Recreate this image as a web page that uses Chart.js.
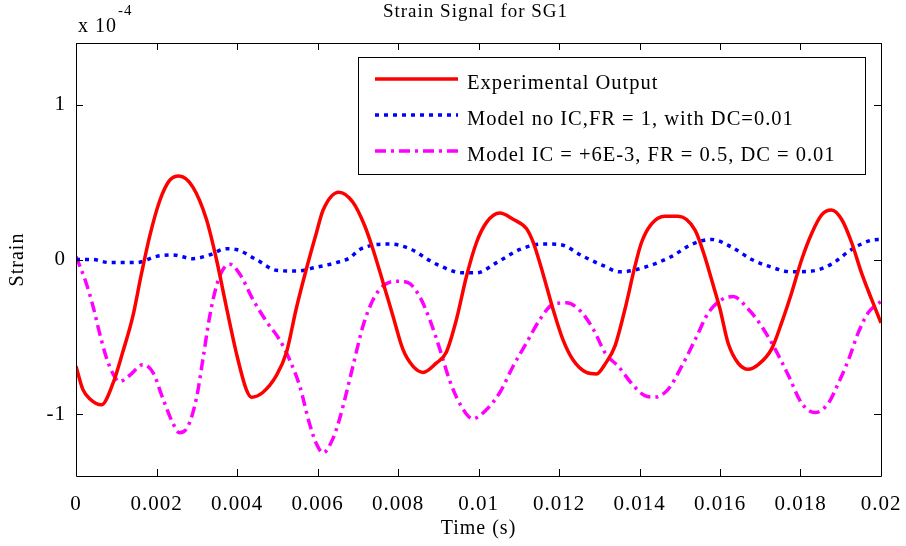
<!DOCTYPE html>
<html>
<head>
<meta charset="utf-8">
<script src="https://cdn.jsdelivr.net/npm/chart.js@4.4.1/dist/chart.umd.min.js"></script>
<style>
  html, body { margin: 0; padding: 0; background: #fff; }
</style>
</head>
<body>
<canvas id="strain-chart" width="906" height="546"></canvas>
<script>
// 데이터 (y 값은 x 10^-4 단위)
const xTicks = [0, 0.002, 0.004, 0.006, 0.008, 0.01, 0.012, 0.014, 0.016, 0.018, 0.02];
const yTicks = [-1, 0, 1];
const seriesNames = [
    'Experimental Output',
    'Model no IC,FR = 1, with DC=0.01',
    'Model IC = +6E-3, FR = 0.5, DC = 0.01'
];

const redT = [0, 0.00017, 0.00034, 0.00063, 0.00092, 0.00116, 0.00141, 0.00162, 0.00183, 0.00208,
    0.00232, 0.00256, 0.0029, 0.00324, 0.00349, 0.00373, 0.00398, 0.00423, 0.00436, 0.00464,
    0.00498, 0.00523, 0.00547, 0.00572, 0.00597, 0.00614, 0.00653, 0.00688, 0.00717, 0.00738,
    0.00763, 0.00788, 0.00812, 0.00837, 0.00862, 0.00895, 0.0092, 0.00945, 0.0097, 0.00995,
    0.0102, 0.01053, 0.01086, 0.01119, 0.01136, 0.0116, 0.01185, 0.0121, 0.01235, 0.01268,
    0.01293, 0.01316, 0.01339, 0.01364, 0.01389, 0.01405, 0.0143, 0.01463, 0.01496, 0.01538,
    0.01562, 0.01579, 0.016, 0.0162, 0.01645, 0.0167, 0.01695, 0.01728, 0.01753, 0.01778,
    0.01803, 0.01828, 0.01853, 0.01877, 0.01902, 0.01927, 0.01952, 0.01977, 0.02];
const redY = [-0.69, -0.84, -0.90, -0.94, -0.80, -0.60, -0.37, -0.10, 0.15, 0.38,
    0.51, 0.54, 0.47, 0.26, 0.0, -0.30, -0.60, -0.84, -0.89, -0.86,
    -0.75, -0.60, -0.32, -0.065, 0.17, 0.32, 0.435, 0.37, 0.22, 0.065,
    -0.15, -0.37, -0.58, -0.69, -0.73, -0.67, -0.60, -0.39, -0.11, 0.11,
    0.24, 0.30, 0.26, 0.20, 0.11, -0.09, -0.32, -0.52, -0.65, -0.73,
    -0.74, -0.67, -0.56, -0.32, -0.04, 0.11, 0.23, 0.28, 0.28, 0.19,
    0.02, -0.13, -0.32, -0.54, -0.67, -0.71, -0.68, -0.58, -0.41, -0.215,
    0.0, 0.17, 0.29, 0.32, 0.26, 0.11, -0.09, -0.26, -0.41];

const blueT = [0, 0.0004, 0.00083, 0.0015, 0.002, 0.0024, 0.0029, 0.00332, 0.00373, 0.00398,
    0.00448, 0.00498, 0.00547, 0.00597, 0.00647, 0.0068, 0.00705, 0.00779, 0.00829, 0.00895,
    0.00962, 0.00995, 0.01045, 0.01103, 0.0116, 0.01202, 0.0126, 0.0131, 0.01351, 0.01413,
    0.0148, 0.01529, 0.01579, 0.01629, 0.01679, 0.01728, 0.01778, 0.01828, 0.01877, 0.01927,
    0.01977, 0.02];
const blueY = [0, 0, -0.02, -0.02, 0.02, 0.03, 0.005, 0.03, 0.07, 0.065,
    0, -0.07, -0.075, -0.05, -0.02, 0.01, 0.065, 0.10, 0.07, -0.03,
    -0.086, -0.086, -0.02, 0.065, 0.10, 0.097, 0.02, -0.04, -0.08, -0.05,
    0.02, 0.097, 0.13, 0.08, 0, -0.05, -0.08, -0.075, -0.03, 0.065,
    0.125, 0.13];

const magT = [0, 0.00025, 0.00042, 0.00058, 0.00075, 0.00092, 0.00108, 0.00133, 0.00166, 0.00191,
    0.00216, 0.00241, 0.00257, 0.00278, 0.00299, 0.00315, 0.00332, 0.00349, 0.00365, 0.00382,
    0.00406, 0.0044, 0.00473, 0.00506, 0.00531, 0.00556, 0.0058, 0.00597, 0.00614, 0.00638,
    0.00655, 0.00672, 0.00688, 0.00713, 0.00738, 0.00763, 0.00796, 0.00825, 0.00854, 0.00879,
    0.00904, 0.00928, 0.00953, 0.00986, 0.0102, 0.01053, 0.01086, 0.01119, 0.01152, 0.01185,
    0.01219, 0.01252, 0.01285, 0.01316, 0.01347, 0.0138, 0.01413, 0.01438, 0.01471, 0.01505,
    0.01538, 0.01571, 0.01604, 0.01633, 0.0167, 0.01703, 0.01737, 0.0177, 0.01803, 0.01836,
    0.01869, 0.01894, 0.01919, 0.01944, 0.01968, 0.02];
const magY = [0.02, -0.15, -0.30, -0.47, -0.63, -0.74, -0.79, -0.75, -0.68, -0.73,
    -0.90, -1.06, -1.12, -1.08, -0.90, -0.65, -0.37, -0.17, -0.065, -0.03,
    -0.09, -0.26, -0.40, -0.52, -0.65, -0.82, -1.06, -1.19, -1.25, -1.16,
    -1.03, -0.86, -0.69, -0.43, -0.26, -0.17, -0.14, -0.15, -0.24, -0.39,
    -0.58, -0.78, -0.93, -1.03, -0.97, -0.86, -0.69, -0.54, -0.39, -0.29,
    -0.28, -0.33, -0.45, -0.61, -0.69, -0.80, -0.88, -0.89, -0.84, -0.69,
    -0.52, -0.345, -0.26, -0.24, -0.32, -0.43, -0.58, -0.75, -0.93, -0.99,
    -0.93, -0.80, -0.65, -0.47, -0.345, -0.27];

const FONT = '"Liberation Serif", "Times New Roman", serif';
const TICK_LEN = 7;

function toPoints(ts, ys) {
    return ts.map((t, i) => ({ x: t, y: ys[i] }));
}

// 축 테두리 + 안쪽 눈금 (MATLAB 스타일)
const framePlugin = {
    id: 'frame',
    afterDatasetsDraw(chart) {
        const { ctx, chartArea: a, scales } = chart;
        ctx.save();
        ctx.strokeStyle = '#000';
        ctx.lineWidth = 1;
        ctx.beginPath();
        ctx.rect(a.left + 0.5, a.top + 0.5, a.right - a.left, a.bottom - a.top);
        scales.x.ticks.forEach(t => {
            const px = Math.round(scales.x.getPixelForValue(t.value)) + 0.5;
            ctx.moveTo(px, a.bottom); ctx.lineTo(px, a.bottom - TICK_LEN);
            ctx.moveTo(px, a.top); ctx.lineTo(px, a.top + TICK_LEN);
        });
        scales.y.ticks.forEach(t => {
            const py = Math.round(scales.y.getPixelForValue(t.value)) + 0.5;
            ctx.moveTo(a.left, py); ctx.lineTo(a.left + TICK_LEN, py);
            ctx.moveTo(a.right, py); ctx.lineTo(a.right - TICK_LEN, py);
        });
        ctx.stroke();
        ctx.restore();
    }
};

// 제목, 지수 표기, 범례
const textPlugin = {
    id: 'texts',
    beforeInit(chart) { chart.ctx.letterSpacing = '1px'; },
    beforeDraw(chart) { chart.ctx.letterSpacing = '1px'; },
    afterDraw(chart) {
        const { ctx, chartArea: a } = chart;
        ctx.save();
        ctx.fillStyle = '#000';
        ctx.textBaseline = 'middle';
        ctx.textAlign = 'center';
        ctx.font = '19px ' + FONT;
        ctx.fillText('Strain Signal for SG1', (a.left + a.right) / 2 - 3, 12);

        ctx.textAlign = 'left';
        ctx.textBaseline = 'alphabetic';
        ctx.font = '20px ' + FONT;
        ctx.fillText('x 10', 78, 32);
        const w = ctx.measureText('x 10').width;
        ctx.font = '15px ' + FONT;
        ctx.fillText('-4', 78 + w + 1, 15);

        // 범례
        const box = { left: 358, top: 57, right: 865, bottom: 174 };
        ctx.fillStyle = '#fff';
        ctx.fillRect(box.left, box.top, box.right - box.left, box.bottom - box.top);
        ctx.strokeStyle = '#000';
        ctx.lineWidth = 1;
        ctx.strokeRect(box.left + 0.5, box.top + 0.5, box.right - box.left, box.bottom - box.top);
        const baselines = [89, 125, 161];
        chart.data.datasets.forEach((ds, i) => {
            const ly = baselines[i] - 10;
            ctx.save();
            ctx.strokeStyle = ds.borderColor;
            ctx.lineWidth = ds.borderWidth;
            ctx.setLineDash(ds.borderDash || []);
            ctx.beginPath();
            ctx.moveTo(375, ly);
            ctx.lineTo(458, ly);
            ctx.stroke();
            ctx.restore();
            ctx.fillStyle = '#000';
            ctx.font = '20.5px ' + FONT;
            ctx.fillText(ds.label, 467, baselines[i]);
        });
        ctx.restore();
    }
};

const ctx = document.getElementById('strain-chart').getContext('2d');
const chart = new Chart(ctx, {
    type: 'line',
    data: {
        datasets: [{
            label: seriesNames[0],
            data: toPoints(redT, redY),
            borderColor: '#ff0000',
            borderWidth: 3.5
        }, {
            label: seriesNames[1],
            data: toPoints(blueT, blueY),
            borderColor: '#0000ff',
            borderWidth: 3.5,
            borderDash: [4, 5]
        }, {
            label: seriesNames[2],
            data: toPoints(magT, magY),
            borderColor: '#ff00ff',
            borderWidth: 3.5,
            borderDash: [11, 5, 3, 5]
        }]
    },
    options: {
        responsive: false,
        animation: false,
        devicePixelRatio: 1,
        layout: { padding: { top: 43, right: 25, left: 0, bottom: 0 } },
        elements: {
            point: { radius: 0 },
            line: { cubicInterpolationMode: 'monotone', borderCapStyle: 'butt', fill: false }
        },
        plugins: {
            legend: { display: false },
            title: { display: false },
            tooltip: { enabled: false }
        },
        scales: {
            x: {
                type: 'linear',
                min: 0,
                max: 0.02,
                grid: { display: false, drawTicks: false },
                border: { display: false },
                afterBuildTicks: s => { s.ticks = xTicks.map(v => ({ value: v })); },
                afterFit: s => { s.height = 70; s.paddingLeft = 0; s.paddingRight = 0; },
                ticks: {
                    autoSkip: false,
                    maxRotation: 0,
                    padding: 16,
                    color: '#000',
                    font: { family: FONT, size: 21 },
                    callback: v => String(+v.toFixed(3))
                },
                title: {
                    display: true,
                    text: 'Time (s)',
                    color: '#000',
                    font: { family: FONT, size: 20 },
                    padding: { top: 0, bottom: 5 }
                }
            },
            y: {
                type: 'linear',
                min: -1.4,
                max: 1.4,
                grid: { display: false, drawTicks: false },
                border: { display: false },
                afterBuildTicks: s => { s.ticks = yTicks.map(v => ({ value: v })); },
                afterFit: s => { s.width = 76; s.paddingTop = 0; s.paddingBottom = 0; },
                ticks: {
                    padding: 10,
                    color: '#000',
                    font: { family: FONT, size: 21 },
                    callback: v => String(v)
                },
                title: {
                    display: true,
                    text: 'Strain',
                    color: '#000',
                    font: { family: FONT, size: 20 },
                    padding: { top: 6, bottom: 0 }
                }
            }
        }
    },
    plugins: [framePlugin, textPlugin]
});
</script>
</body>
</html>
